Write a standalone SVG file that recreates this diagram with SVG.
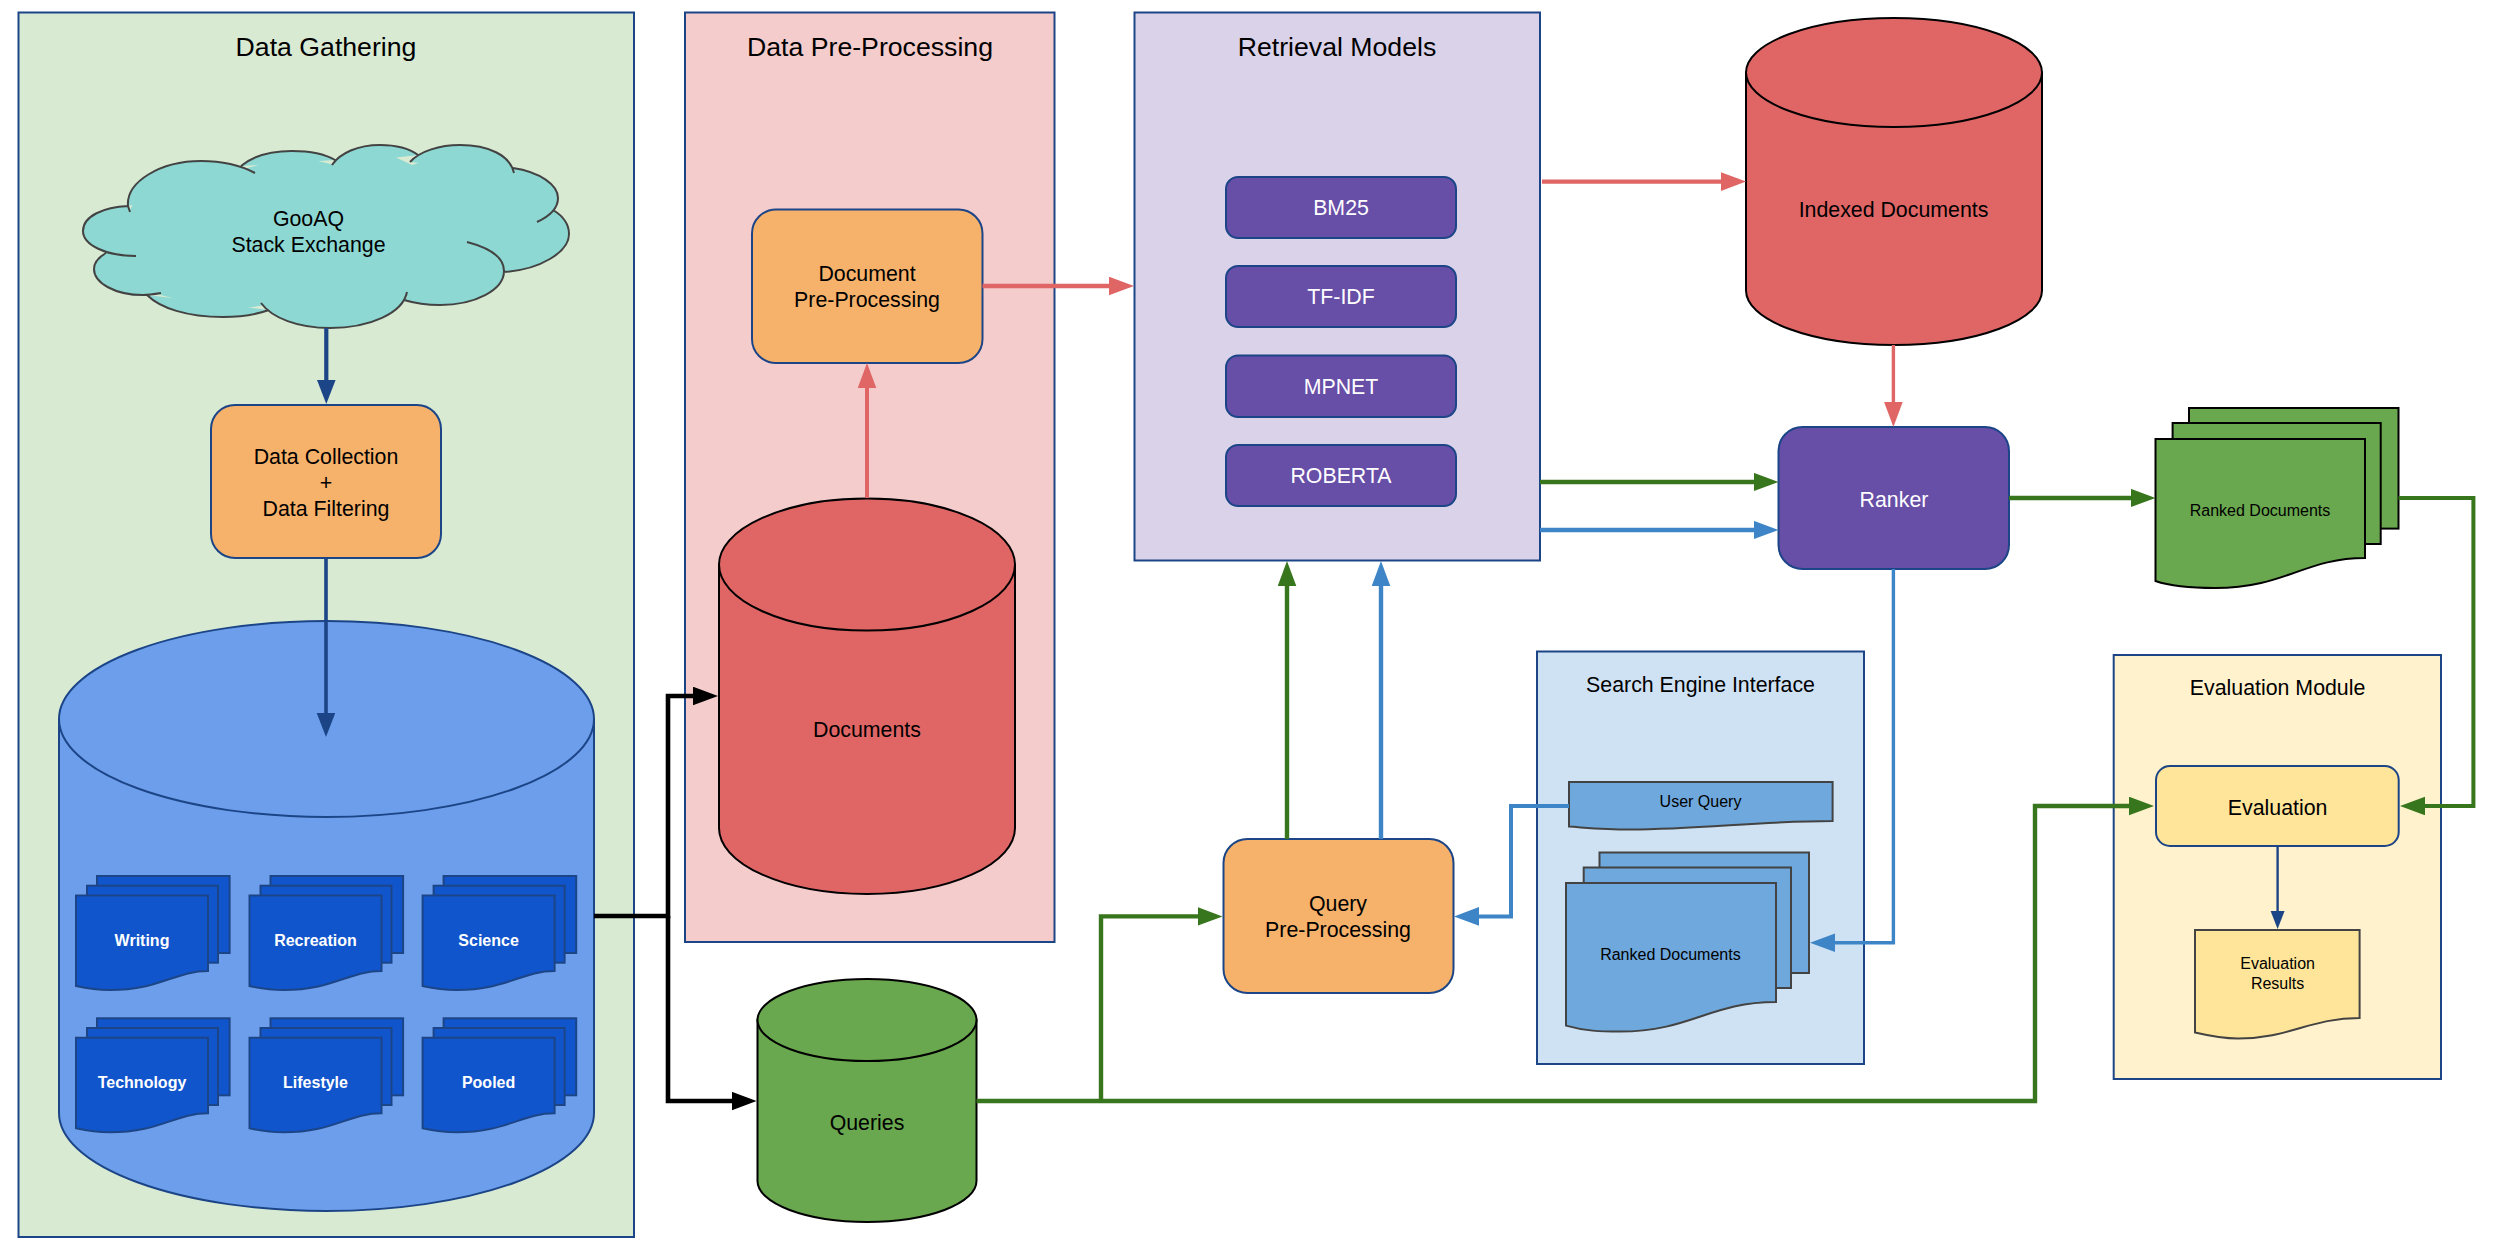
<svg xmlns="http://www.w3.org/2000/svg" xmlns:xlink="http://www.w3.org/1999/xlink" width="2495" height="1254" viewBox="0 0 2495 1254">
<style>
text{font-family:"Liberation Sans",Arial,sans-serif;font-size:21.33px;fill:#000;text-anchor:middle}
.title{font-size:26.67px}
.s16{font-size:16px}
.w{fill:#fff}
.b{font-weight:bold;font-size:16px;fill:#fff}
.panel{stroke:#1c4587;stroke-width:2}
.box{stroke:#1c4587;stroke-width:2}
.k{stroke:#000;stroke-width:2}
.g{stroke:#434343;stroke-width:2}
.orange{fill:#f6b26b}.purple{fill:#674ea7}
.red{fill:#e06666}.green{fill:#6aa84f}.lblue{fill:#6fa8dc}.yellow{fill:#ffe599}
.c{fill:none;stroke-linejoin:miter}
.cdb{stroke:#1c4587}.ck{stroke:#000}.cr{stroke:#e06666}.cg{stroke:#38761d}.cb{stroke:#3d85c6}
</style>
<defs>
<marker id="mdb" markerUnits="userSpaceOnUse" markerWidth="24" markerHeight="19" refX="4" refY="9.3" orient="auto"><path d="M0,0L24,9.3L0,18.6z" fill="#1c4587"/></marker>
<marker id="mdbs" markerUnits="userSpaceOnUse" markerWidth="19" markerHeight="15" refX="4" refY="7" orient="auto"><path d="M0,0L18,7L0,14z" fill="#1c4587"/></marker>
<marker id="mk" markerUnits="userSpaceOnUse" markerWidth="25" markerHeight="19" refX="5" refY="9.3" orient="auto"><path d="M0,0L25,9.3L0,18.6z" fill="#000"/></marker>
<marker id="mr" markerUnits="userSpaceOnUse" markerWidth="25" markerHeight="19" refX="5" refY="9.3" orient="auto"><path d="M0,0L25,9.3L0,18.6z" fill="#e06666"/></marker>
<marker id="mg" markerUnits="userSpaceOnUse" markerWidth="25" markerHeight="19" refX="5" refY="9.3" orient="auto"><path d="M0,0L25,9.3L0,18.6z" fill="#38761d"/></marker>
<marker id="mb" markerUnits="userSpaceOnUse" markerWidth="25" markerHeight="19" refX="5" refY="9.3" orient="auto"><path d="M0,0L25,9.3L0,18.6z" fill="#3d85c6"/></marker>
<g id="bdoc" fill="#1155cc" stroke="#1c4587" stroke-width="2">
<rect x="97" y="876" width="132.6" height="77"/>
<rect x="87" y="885.7" width="131" height="77"/>
<path d="M76,895.4H208V971C175,971 160,990 110,990C95,990 85,988 76,986Z"/>
</g>
</defs>
<rect width="2495" height="1254" fill="#fff"/>

<g id="panel-data-gathering"><rect class="panel" x="18.5" y="12.5" width="615.5" height="1224.5" fill="#d9ead3"/><text class="title" x="326" y="56">Data Gathering</text></g>
<g id="panel-data-preprocessing"><rect class="panel" x="685" y="12.5" width="369.5" height="929.5" fill="#f4cccc"/><text class="title" x="870" y="56">Data Pre-Processing</text></g>
<g id="panel-retrieval-models"><rect class="panel" x="1134.5" y="12.5" width="405.5" height="548" fill="#d9d2e9"/><text class="title" x="1337" y="56">Retrieval Models</text></g>
<g id="panel-search-engine"><rect class="panel" x="1537" y="651.5" width="327" height="412.5" fill="#cfe2f3"/><text x="1700.5" y="691.5">Search Engine Interface</text></g>
<g id="panel-evaluation"><rect class="panel" x="2113.7" y="655" width="327.3" height="424" fill="#fff2cc"/><text x="2277.6" y="695">Evaluation Module</text></g>

<g id="node-cloud">
<path fill="#8dd8d2" d="M100,235L130,210L140,190L200,165L241,170L292,155L335,165L380,150L412,165L460,150L513,172L540,190L550,212L560,235L505,270L440,300L404,296L330,322L265,305L223,312L150,292L100,265L106,256Z"/>
<path fill="#8dd8d2" stroke="#434343" stroke-width="2" d="M136,256C106,256 83,245 83,231C83,216 104,207 128,206L130,212M128,206C126,182 160,161 201,161C222,161 240,165 255,173M241,166C253,156 272,151 292,151C310,151 325,154 335,160M332,165C340,153 358,145 380,145C397,145 410,149 418,155M410,162C420,151 440,145 460,145C488,145 510,155 514,173M513,168C540,172 558,185 558,198C558,208 550,216 537,222M553,210C563,216 569,224 569,234C569,252 540,270 503,272M467,242C490,248 504,258 504,271C504,290 475,305 440,305C426,305 414,303 404,300M407,292C403,313 370,328 330,328C298,328 272,318 261,303M269,310C255,315 240,317 223,317C187,317 160,308 147,295M161,293C155,294 149,295 143,295C115,295 94,283 94,269C94,262 99,257 106,253"/>
<text x="308.5" y="226">GooAQ</text><text x="308.5" y="252">Stack Exchange</text>
</g>
<g id="node-data-collection"><rect class="box orange" x="211" y="405" width="230" height="153" rx="24"/><text x="326" y="464">Data Collection</text><text x="326" y="490">+</text><text x="326" y="516">Data Filtering</text></g>

<g id="node-dataset">
<path d="M59,719V1113A267.5,98 0 0 0 594,1113V719Z" fill="#6d9eeb" stroke="#1c4587" stroke-width="2"/>
<ellipse cx="326.5" cy="719" rx="267.5" ry="98" fill="#6d9eeb" stroke="#1c4587" stroke-width="2"/>
</g>
<g id="doc-writing"><use href="#bdoc"/><text class="b" x="142" y="946">Writing</text></g>
<g id="doc-recreation"><use href="#bdoc" transform="translate(173.5,0)"/><text class="b" x="315.5" y="946">Recreation</text></g>
<g id="doc-science"><use href="#bdoc" transform="translate(346.6,0)"/><text class="b" x="488.6" y="946">Science</text></g>
<g id="doc-technology"><use href="#bdoc" transform="translate(0,142.3)"/><text class="b" x="142" y="1088">Technology</text></g>
<g id="doc-lifestyle"><use href="#bdoc" transform="translate(173.5,142.3)"/><text class="b" x="315.5" y="1088">Lifestyle</text></g>
<g id="doc-pooled"><use href="#bdoc" transform="translate(346.6,142.3)"/><text class="b" x="488.6" y="1088">Pooled</text></g>

<g id="node-documents">
<path class="red k" d="M719,564.6V828A148,66 0 0 0 1015,828V564.6Z"/>
<ellipse class="red k" cx="867" cy="564.6" rx="148" ry="66"/>
<text x="867" y="736.5">Documents</text>
</g>
<g id="node-doc-preprocessing"><rect class="box orange" x="752" y="209.4" width="230.5" height="153.6" rx="24"/><text x="867" y="281">Document</text><text x="867" y="307">Pre-Processing</text></g>

<g id="node-queries">
<path class="green k" d="M757.5,1020V1181A109.5,41 0 0 0 976.5,1181V1020Z"/>
<ellipse class="green k" cx="867" cy="1020" rx="109.5" ry="41"/>
<text x="867" y="1129.5">Queries</text>
</g>

<g id="model-bm25"><rect class="box purple" x="1226" y="177" width="230" height="61" rx="12"/><text class="w" x="1341" y="215">BM25</text></g>
<g id="model-tfidf"><rect class="box purple" x="1226" y="266" width="230" height="61" rx="12"/><text class="w" x="1341" y="304">TF-IDF</text></g>
<g id="model-mpnet"><rect class="box purple" x="1226" y="355.5" width="230" height="61.5" rx="12"/><text class="w" x="1341" y="393.5">MPNET</text></g>
<g id="model-roberta"><rect class="box purple" x="1226" y="445" width="230" height="61" rx="12"/><text class="w" x="1341" y="483">ROBERTA</text></g>

<g id="node-indexed">
<path class="red k" d="M1746,72.5V290.5A148,54.5 0 0 0 2042,290.5V72.5Z"/>
<ellipse class="red k" cx="1894" cy="72.5" rx="148" ry="54.5"/>
<text x="1893.5" y="216.5">Indexed Documents</text>
</g>
<g id="node-ranker"><rect class="box purple" x="1778.5" y="427" width="230.5" height="142" rx="24"/><text class="w" x="1894" y="506.5">Ranker</text></g>

<g id="node-ranked-green">
<g class="green k"><rect x="2189" y="408" width="209.5" height="120.6"/><rect x="2172.6" y="423" width="208.1" height="121"/><path d="M2155.5,439H2365V558C2305,558 2285,588 2215,588C2190,588 2170,586 2155.5,581Z"/></g>
<text class="s16" x="2260" y="515.5">Ranked Documents</text>
</g>

<g id="node-query-preprocessing"><rect class="box orange" x="1223.5" y="839" width="230" height="154" rx="24"/><text x="1338" y="911">Query</text><text x="1338" y="937.4">Pre-Processing</text></g>

<g id="node-user-query"><path class="lblue g" d="M1569,782H1832.6V821C1760,821 1700,829.5 1630,829.5C1605,829.5 1590,828 1569,826.6Z"/><text class="s16" x="1700.5" y="806.5">User Query</text></g>
<g id="node-ranked-blue">
<g class="lblue g"><rect x="1599.5" y="852.5" width="209.5" height="120.5"/><rect x="1583.7" y="867.5" width="207.3" height="120.5"/><path d="M1566,883H1776V1002C1710,1002 1690,1031.6 1620,1031.6C1600,1031.6 1585,1031 1566,1025.6Z"/></g>
<text class="s16" x="1670.4" y="960">Ranked Documents</text>
</g>

<g id="node-evaluation"><rect class="box yellow" x="2156" y="766" width="242.7" height="80" rx="14"/><text x="2277.6" y="814.5">Evaluation</text></g>
<g id="node-evaluation-results"><path class="yellow g" d="M2195,930H2359.6V1018C2310,1018 2290,1038.5 2238,1038.5C2225,1038.5 2210,1036 2195,1032.5Z"/><text class="s16" x="2277.6" y="969">Evaluation</text><text class="s16" x="2277.6" y="989">Results</text></g>

<g id="connectors" class="c">
<path class="cdb" stroke-width="4.2" marker-end="url(#mdb)" d="M326.3,328V384"/>
<path class="cdb" stroke-width="3.6" marker-end="url(#mdb)" d="M326,558V717"/>
<path class="ck" stroke-width="4.6" marker-end="url(#mk)" d="M594,916H668V696H698"/>
<path class="ck" stroke-width="4.6" marker-end="url(#mk)" d="M668,916V1101H736.6"/>
<path class="cr" stroke-width="4" marker-end="url(#mr)" d="M867,498V383"/>
<path class="cr" stroke-width="4.4" marker-end="url(#mr)" d="M982.5,286H1114"/>
<path class="cr" stroke-width="4.4" marker-end="url(#mr)" d="M1542,181.6H1726"/>
<path class="cr" stroke-width="3.4" marker-end="url(#mr)" d="M1893.4,345V407"/>
<path class="cg" stroke-width="4.4" marker-end="url(#mg)" d="M1540,482H1758.5"/>
<path class="cb" stroke-width="4.4" marker-end="url(#mb)" d="M1540,530H1758.5"/>
<path class="cg" stroke-width="4.4" marker-end="url(#mg)" d="M2009,498H2135.5"/>
<path class="cg" stroke-width="4" marker-end="url(#mg)" d="M2398.5,498H2473.4V806H2420"/>
<path class="cg" stroke-width="4.4" marker-end="url(#mg)" d="M976.5,1101H2035V806H2134"/>
<path class="cg" stroke-width="4.4" marker-end="url(#mg)" d="M1101,1101V916.4H1202.5"/>
<path class="cg" stroke-width="4.4" marker-end="url(#mg)" d="M1287,839V581"/>
<path class="cb" stroke-width="4.4" marker-end="url(#mb)" d="M1381,839V581"/>
<path class="cb" stroke-width="4" marker-end="url(#mb)" d="M1569,806H1511V916.4H1474"/>
<path class="cb" stroke-width="3.4" marker-end="url(#mb)" d="M1893.4,569V942.7H1830"/>
<path class="cdb" stroke-width="2.4" marker-end="url(#mdbs)" d="M2277.6,846V915"/>
</g>
</svg>
